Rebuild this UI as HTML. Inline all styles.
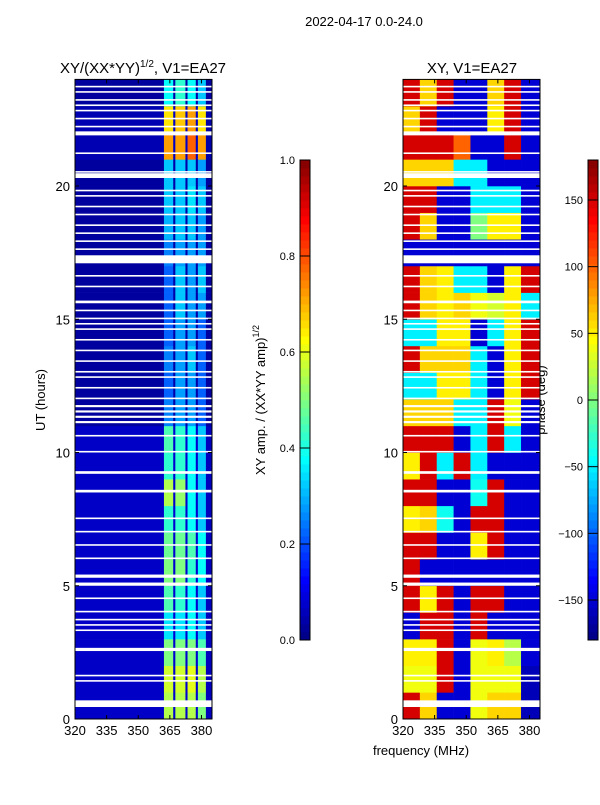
<!DOCTYPE html>
<html><head><meta charset="utf-8"><style>
body{margin:0;background:#fff;font-family:"Liberation Sans",sans-serif}
svg text{font-family:"Liberation Sans",sans-serif;fill:#000}
</style></head><body>
<svg id="fig" width="600" height="800" viewBox="0 0 600 800" xmlns="http://www.w3.org/2000/svg">
<text x="364" y="26" font-size="13" text-anchor="middle">2022-04-17 0.0-24.0</text>
<text x="143" y="73" font-size="15" text-anchor="middle">XY/(XX*YY)<tspan font-size="10" dy="-6">1/2</tspan><tspan dy="6">, V1=EA27</tspan></text>
<text x="472" y="73" font-size="15" text-anchor="middle">XY, V1=EA27</text>
<text transform="translate(45,400) rotate(-90)" font-size="13" text-anchor="middle">UT (hours)</text>
<text x="421" y="755" font-size="13" text-anchor="middle">frequency (MHz)</text>
<text transform="translate(265,400) rotate(-90)" font-size="13" text-anchor="middle">XY amp. / (XX*YY amp)<tspan font-size="9" dy="-6">1/2</tspan></text>
<text transform="translate(545,400) rotate(-90)" font-size="13" text-anchor="middle">phase (deg)</text>
<g id="left"></g>
<g id="right"></g>
<g id="cb1"></g>
<g id="cb2"></g>
</svg>
<script>
// ---- data ----
const ampBands = [320, 362.2, 366.6, 367.6, 372.4, 373.4, 377.3, 378.3, 382.1, 385];
const hourEdges = [0,1,2,3,4,5,6,7,8,9,10,11,12,13,14,15,16,17,18,19,20,21,22,23,24];
const ampRows = [
 [0.07,0.55,0.08,0.55,0.08,0.55,0.08,0.5,0.06],
 [0.07,0.58,0.08,0.58,0.08,0.6,0.08,0.55,0.06],
 [0.07,0.5,0.08,0.5,0.08,0.5,0.08,0.45,0.06],
 [0.07,0.35,0.08,0.35,0.08,0.38,0.08,0.32,0.06],
 [0.07,0.45,0.08,0.42,0.08,0.38,0.08,0.32,0.06],
 [0.07,0.5,0.08,0.5,0.08,0.42,0.08,0.38,0.06],
 [0.07,0.48,0.08,0.48,0.08,0.45,0.08,0.38,0.06],
 [0.07,0.42,0.08,0.42,0.08,0.38,0.08,0.32,0.06],
 [0.07,0.55,0.08,0.52,0.08,0.38,0.08,0.32,0.06],
 [0.07,0.42,0.08,0.42,0.08,0.38,0.08,0.32,0.06],
 [0.07,0.45,0.08,0.42,0.08,0.38,0.08,0.32,0.06],
 [0.03,0.25,0.04,0.28,0.04,0.28,0.04,0.22,0.03],
 [0.03,0.22,0.04,0.28,0.04,0.28,0.04,0.22,0.03],
 [0.03,0.25,0.04,0.28,0.04,0.32,0.04,0.22,0.03],
 [0.03,0.22,0.04,0.28,0.04,0.28,0.04,0.22,0.03],
 [0.03,0.22,0.04,0.32,0.04,0.28,0.04,0.28,0.03],
 [0.03,0.22,0.04,0.32,0.04,0.28,0.04,0.32,0.03],
 [0.03,0.25,0.04,0.28,0.04,0.28,0.04,0.28,0.03],
 [0.03,0.3,0.04,0.32,0.04,0.32,0.04,0.28,0.03],
 [0.03,0.32,0.04,0.32,0.04,0.35,0.04,0.32,0.03],
 [0.03,0.32,0.04,0.32,0.04,0.32,0.04,0.28,0.03],
 [0.05,0.72,0.07,0.72,0.07,0.78,0.07,0.72,0.04],
 [0.05,0.65,0.07,0.68,0.07,0.72,0.07,0.65,0.04],
 [0.03,0.38,0.04,0.42,0.04,0.38,0.04,0.32,0.03]
];
const phaseBands = [320,328,336,344,352,360,368,376,385];
const phaseRows = [
 [150,60,-150,-150,40,60,60,-160],
 [40,40,150,-150,40,40,40,-160],
 [50,50,150,-150,40,50,20,-150],
 [-150,150,150,-150,150,-150,-150,-150],
 [150,50,150,-150,150,150,-150,-150],
 [150,-150,-150,-150,-150,-150,-150,-150],
 [150,150,-150,-150,50,150,-150,-150],
 [50,60,-40,-150,150,150,-150,-150],
 [150,150,-150,-150,-40,150,-150,-150],
 [50,150,-50,150,-50,-150,-150,-150],
 [150,150,150,-150,-50,150,-50,-150],
 [60,60,60,-50,-50,150,40,-150],
 [-50,-50,50,50,-50,-150,50,150],
 [150,60,60,60,-50,-150,50,150],
 [-50,-50,50,50,-150,-50,50,150],
 [150,60,50,60,40,30,50,-50],
 [150,60,50,-50,-50,-150,50,150],
 [-150,-150,-150,-150,-150,-150,-150,-150],
 [150,60,-150,-150,0,50,50,-150],
 [150,150,-150,-150,-50,-50,-50,-150],
 [60,60,60,-50,-50,-150,-150,-150],
 [150,150,150,100,-150,-150,150,-150],
 [60,150,-150,-150,-150,50,150,-150],
 [150,60,150,-150,-150,60,150,-150]
];
const gapHours = [0.45,1.4,1.6,2.55,3.3,3.5,3.7,4.0,4.5,5.0,5.3,6.0,6.5,7.0,7.5,8.5,9.2,10.0,10.6,11.1,11.3,11.5,11.7,12.0,12.4,12.8,13.0,13.4,13.8,14.2,14.6,14.8,15.0,15.3,15.6,16.2,16.6,17.1,17.6,17.9,18.2,18.5,18.9,19.2,19.6,19.8,20.3,20.5,21.2,21.9,22.2,22.5,22.8,23.0,23.2,23.5,23.7];
const gapWidths = [0.25,0.06,0.06,0.12,0.06,0.06,0.06,0.06,0.06,0.12,0.12,0.06,0.06,0.06,0.06,0.1,0.1,0.06,0.06,0.08,0.08,0.08,0.08,0.06,0.06,0.06,0.06,0.06,0.06,0.06,0.06,0.06,0.06,0.06,0.1,0.06,0.06,0.3,0.06,0.06,0.06,0.06,0.06,0.06,0.06,0.06,0.18,0.06,0.06,0.15,0.06,0.06,0.06,0.06,0.06,0.06,0.06];
const freqTicks = [320,335,350,365,380];
const hourTicks = [0,5,10,15,20];
const ampTicks = [0.0,0.2,0.4,0.6,0.8,1.0];
const phaseTicks = [-150,-100,-50,0,50,100,150];

// ---- helpers ----
const NS="http://www.w3.org/2000/svg";
function jet(t){t=Math.max(0,Math.min(1,t));
 const r=Math.max(0,Math.min(1,1.5-Math.abs(4*t-3))),g=Math.max(0,Math.min(1,1.5-Math.abs(4*t-2))),b=Math.max(0,Math.min(1,1.5-Math.abs(4*t-1)));
 return `rgb(${Math.round(r*255)},${Math.round(g*255)},${Math.round(b*255)})`;}
function mk(tag,attrs,parent){const e=document.createElementNS(NS,tag);for(const k in attrs)e.setAttribute(k,attrs[k]);parent.appendChild(e);return e;}
const Y0=719,Y1=79.4;
const yS=h=>Y0-(h/24)*(Y0-Y1);
function xS(x0){return f=>x0+(f-320)/(385-320)*137;}

function panel(gid,x0,bands,rows,norm){
 const g=document.getElementById(gid),xs=xS(x0);
 rows.forEach((row,i)=>{row.forEach((v,j)=>{
   const r=mk('rect',{x:xs(bands[j]),y:yS(hourEdges[i+1]),width:xs(bands[j+1])-xs(bands[j])+0.3,height:yS(hourEdges[i])-yS(hourEdges[i+1])+0.3,fill:jet(norm(v))},g);
   
   
 });});
 gapHours.forEach((h,k)=>{
   const r=mk('rect',{x:x0,y:yS(h+gapWidths[k]),width:137,height:Math.max(1.2,yS(h)-yS(h+gapWidths[k])),fill:'#fff'},g);
   
   
 });
 mk('rect',{x:x0,y:Y1,width:137,height:Y0-Y1,fill:'none',stroke:'#000','stroke-width':1},g);
 freqTicks.forEach(f=>{const x=xs(f);
   mk('line',{x1:x,x2:x,y1:Y0,y2:Y0-4,stroke:'#000'},g);mk('line',{x1:x,x2:x,y1:Y1,y2:Y1+4,stroke:'#000'},g);
   const t=mk('text',{x:x,y:Y0+16,'font-size':13,'text-anchor':'middle'},g);t.textContent=f;
   
   });
 hourTicks.forEach(h=>{const y=yS(h);
   mk('line',{x1:x0,x2:x0+4,y1:y,y2:y,stroke:'#000'},g);mk('line',{x1:x0+137,x2:x0+133,y1:y,y2:y,stroke:'#000'},g);
   const t=mk('text',{x:x0-5,y:y+5,'font-size':13,'text-anchor':'end'},g);t.textContent=h;
   
   });
}
panel('left',75,ampBands,ampRows,v=>v);
panel('right',403,phaseBands,phaseRows,v=>(v+180)/360);

function cbar(gid,x0,ticks,lo,hi,fmt){
 const g=document.getElementById(gid),top=160,bot=640,n=60;
 for(let i=0;i<n;i++){mk('rect',{x:x0,y:bot-(i+1)*(bot-top)/n,width:10,height:(bot-top)/n+0.5,fill:jet((i+0.5)/n)},g);}
 mk('rect',{x:x0,y:top,width:10,height:bot-top,fill:'none',stroke:'#000'},g);
 ticks.forEach(v=>{const y=bot-(v-lo)/(hi-lo)*(bot-top);
   mk('line',{x1:x0,x2:x0+10,y1:y,y2:y,stroke:'#000'},g);
   const t=mk('text',{x:x0-5,y:y+4,'font-size':11,'text-anchor':'end'},g);t.textContent=fmt(v);
   
   });
}
cbar('cb1',300,ampTicks,0,1,v=>v.toFixed(1));
cbar('cb2',588,phaseTicks,-180,180,v=>v<0?'\u2212'+(-v):String(v));
</script>
</body></html>
